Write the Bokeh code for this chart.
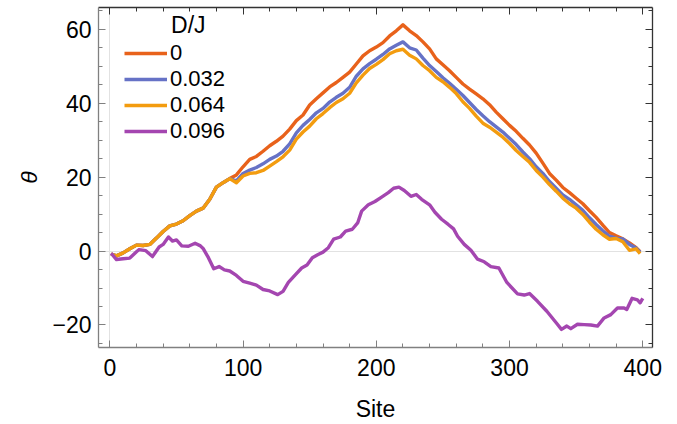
from bokeh.plotting import figure
from bokeh.models import (LinearAxis, Range1d, FixedTicker, Legend, LegendItem,
                          Label, ColumnDataSource, CustomJSTickFormatter)
from bokeh.embed import file_html
from bokeh.resources import INLINE

# ---------------- data ----------------
series_names = ["0", "0.032", "0.064", "0.096"]
series_colors = ["#e8621b", "#6672c6", "#f39c0f", "#a446b0"]

sites_main = [1, 5, 10, 15, 20, 25, 30, 35, 40, 45, 50, 55, 60, 65, 70, 75, 80, 85, 90,
              95, 100, 105, 110, 115, 120, 125, 130, 135, 140, 145, 150, 155, 160, 165,
              170, 175, 180, 185, 190, 195, 200, 205, 210, 215, 220, 225, 230, 235, 240,
              245, 250, 255, 260, 265, 270, 275, 280, 285, 290, 295, 300, 305, 310, 315,
              320, 325, 330, 335, 340, 345, 350, 355, 360, 365, 370, 375, 380, 385, 390,
              395, 398]

early = [-0.8, -1.3, -0.5, 0.6, 1.6, 1.5, 1.8, 3.5, 5.3, 6.8, 7.3, 8.2, 9.6, 10.8,
         11.6, 14.0, 17.3, 18.5, 19.6]

theta_0 = early + [20.6, 22.8, 24.8, 25.6, 27.0, 28.5, 29.7, 31.1, 33.0, 35.3, 36.8,
                   39.5, 41.2, 42.8, 44.4, 45.6, 47.0, 48.4, 50.6, 52.8, 54.2, 55.2,
                   56.4, 58.2, 59.6, 61.2, 59.6, 58.3, 56.6, 54.7, 52.0, 50.4, 48.8,
                   47.0, 45.2, 43.8, 42.5, 41.2, 39.6, 37.6, 35.8, 34.0, 32.4, 30.5,
                   28.7, 26.5, 23.8, 21.0, 19.2, 17.2, 15.8, 14.3, 12.8, 10.9, 9.1,
                   7.0, 5.0, 4.1, 3.3, 2.2, 0.9, -0.2]

theta_032 = early + [19.0, 21.0, 21.9, 22.6, 23.6, 24.8, 25.7, 27.0, 29.0, 32.0, 34.0,
                     35.6, 37.4, 38.6, 40.3, 41.6, 42.7, 44.3, 47.3, 49.3, 50.7, 51.9,
                     53.2, 54.7, 55.7, 56.6, 55.0, 54.4, 52.2, 50.2, 48.6, 46.9, 45.4,
                     43.8, 42.1, 40.2, 38.3, 36.6, 35.0, 33.6, 32.2, 30.5, 28.8, 26.8,
                     25.0, 22.8, 21.0, 18.8, 17.0, 15.2, 14.0, 12.5, 11.0, 9.0, 7.2,
                     5.5, 4.0, 3.5, 3.3, 1.8, 0.8, -0.3]

theta_064 = early + [18.5, 20.3, 21.0, 21.2, 21.8, 23.0, 24.2, 25.5, 27.3, 30.3, 32.2,
                     33.8, 35.8, 37.2, 38.8, 40.2, 41.2, 42.7, 45.5, 47.6, 49.4, 50.5,
                     51.8, 53.4, 54.2, 54.6, 53.0, 52.0, 50.2, 48.8, 47.0, 45.8, 44.3,
                     42.6, 40.4, 38.6, 36.5, 34.6, 33.5, 32.2, 30.8, 29.1, 27.2, 25.6,
                     24.0, 21.8, 20.0, 18.0, 16.2, 14.3, 12.8, 11.6, 9.9, 7.8, 5.9,
                     4.4, 3.2, 3.4, 2.5, 0.2, 0.6, -0.7]

sites_096 = [1, 5, 10, 15, 20, 22, 27, 32, 37, 40, 44, 47, 50, 54, 59, 64, 68, 70, 74,
             78, 82, 86, 90, 95, 100, 105, 110, 115, 120, 126, 130, 134, 139, 144, 148,
             152, 156, 160, 164, 168, 173, 177, 182, 186, 189, 194, 199, 204, 209, 213,
             217, 221, 226, 230, 234, 240, 244, 249, 254, 258, 261, 266, 271, 276, 281,
             286, 292, 298, 306, 311, 315, 321, 328, 335, 339, 343, 346, 351, 356, 361,
             366, 371, 376, 381, 386, 388, 392, 396, 398, 400]
theta_096 = [-0.6, -2.3, -2.1, -1.9, -0.2, 0.4, 0.1, -1.5, 1.1, 1.8, 3.8, 2.7, 3.0, 1.4,
             1.3, 2.1, 1.4, 0.7, -1.8, -4.8, -4.2, -5.1, -5.4, -6.6, -8.2, -8.7, -9.2,
             -10.4, -10.8, -11.8, -10.9, -8.5, -6.5, -4.6, -3.8, -1.8, -1.0, -0.3, 0.9,
             3.2, 3.8, 5.4, 5.9, 7.6, 10.8, 12.5, 13.4, 14.6, 15.8, 17.0, 17.3, 16.4,
             14.8, 15.3, 14.0, 12.5, 10.5, 8.6, 7.2, 6.0, 4.0, 1.8, 0.2, -2.2, -2.9,
             -4.2, -4.6, -8.5, -11.6, -11.9, -11.5, -13.6, -16.3, -19.4, -21.2, -20.3,
             -21.0, -19.8, -19.9, -20.0, -20.3, -18.1, -17.2, -15.4, -15.4, -15.8,
             -12.8, -13.2, -14.0, -12.8]

x_major = [0, 100, 200, 300, 400]
y_major = [-20, 0, 20, 40, 60]
y_labels = {-20: "\u221220", 0: "0", 20: "20", 40: "40", 60: "60"}

# ---------------- figure ----------------
FONT = "Liberation Sans"
FS = "23px"

p = figure(width=677, height=424, output_backend="svg", toolbar_location=None,
           x_range=Range1d(-8.5, 407.3), y_range=Range1d(-26.1, 65.9),
           min_border_left=98, min_border_right=25, min_border_top=7,
           min_border_bottom=74)
p.outline_line_color = None
p.background_fill_color = "white"

# grid: only the zero lines
p.xgrid.ticker = FixedTicker(ticks=[0])
p.ygrid.ticker = FixedTicker(ticks=[0])
p.xgrid.grid_line_color = "#e2e2e2"
p.ygrid.grid_line_color = "#e2e2e2"
p.xgrid.grid_line_width = 1
p.ygrid.grid_line_width = 1

def style_axis(ax, color):
    ax.major_tick_in = 7
    ax.major_tick_out = 0
    ax.minor_tick_in = 4
    ax.minor_tick_out = 0
    ax.axis_line_color = color
    ax.axis_line_width = 1.3
    ax.major_tick_line_color = color
    ax.minor_tick_line_color = color
    ax.major_tick_line_width = 1
    ax.minor_tick_line_width = 1
    ax.major_label_text_font = FONT
    ax.major_label_text_font_size = FS
    ax.major_label_text_color = "black"
    ax.axis_label_text_font = FONT
    ax.axis_label_text_font_size = FS
    ax.axis_label_text_color = "black"
    ax.axis_label_text_font_style = "normal"

xt = FixedTicker(ticks=x_major, minor_ticks=list(range(0, 401, 20)))
yt = FixedTicker(ticks=y_major, minor_ticks=list(range(-25, 66, 5)))

p.xaxis.ticker = xt
p.yaxis.ticker = yt
style_axis(p.xaxis[0], "#808080")
style_axis(p.yaxis[0], "#808080")
p.xaxis.major_label_standoff = 11
p.yaxis.major_label_standoff = 7
p.yaxis.major_label_overrides = y_labels
p.xaxis.axis_label = "Site"
p.xaxis.axis_label_standoff = 17
p.yaxis.axis_label = "\u03b8"
p.yaxis.axis_label_text_font_style = "italic"
p.yaxis.axis_label_standoff = 7

blank = CustomJSTickFormatter(code="return '';")
top = LinearAxis(ticker=xt, formatter=blank)
style_axis(top, "#333333")
top.major_label_standoff = 0
p.add_layout(top, "above")
right = LinearAxis(ticker=yt, formatter=blank)
style_axis(right, "#333333")
right.major_label_standoff = 0
p.add_layout(right, "right")

# ---------------- lines ----------------
renderers = []
for xs, ys, col in [(sites_main, theta_0, series_colors[0]),
                    (sites_main, theta_032, series_colors[1]),
                    (sites_main, theta_064, series_colors[2]),
                    (sites_096, theta_096, series_colors[3])]:
    src = ColumnDataSource(dict(x=xs, y=ys))
    r = p.line("x", "y", source=src, line_color=col, line_width=3.4,
               line_join="round")
    renderers.append(r)

legend = Legend(items=[LegendItem(label=n, renderers=[r])
                       for n, r in zip(series_names, renderers)],
                location=(26, 203), padding=0, margin=0, spacing=-1,
                glyph_width=43, glyph_height=24, label_height=24,
                label_standoff=3, border_line_color=None,
                background_fill_alpha=0, label_text_color="black",
                label_text_font=FONT, label_text_font_size="22px")
p.add_layout(legend, "center")

p.add_layout(Label(x=46, y=61.3, text="D/J", text_font=FONT,
                   text_font_size=FS, text_color="black",
                   text_baseline="alphabetic"))

open("out.html", "w").write(file_html(p, INLINE))
